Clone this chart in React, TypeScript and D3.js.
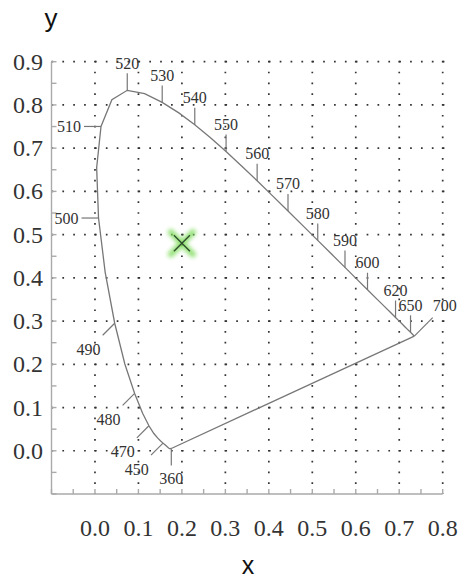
import React from "react";
import * as d3 from "d3";

// CIE 1931 spectral locus
const wavelengths = [
  360, 365, 370, 375, 380, 385, 390, 395, 400, 405, 410, 415, 420, 425, 430,
  435, 440, 445, 450, 455, 460, 465, 470, 475, 480, 485, 490, 495, 500, 505,
  510, 515, 520, 525, 530, 535, 540, 545, 550, 555, 560, 565, 570, 575, 580,
  585, 590, 595, 600, 605, 610, 615, 620, 625, 630, 635, 640, 645, 650, 655,
  660, 665, 670, 680, 690, 700,
];
const chromaX = [
  0.1756, 0.1752, 0.1748, 0.1745, 0.1741, 0.174, 0.1738, 0.1736, 0.1733,
  0.173, 0.1726, 0.1721, 0.1714, 0.1703, 0.1689, 0.1669, 0.1644, 0.1611,
  0.1566, 0.151, 0.144, 0.1355, 0.1241, 0.1096, 0.0913, 0.0687, 0.0454,
  0.0235, 0.0082, 0.0039, 0.0139, 0.0389, 0.0743, 0.1142, 0.1547, 0.1929,
  0.2296, 0.2658, 0.3016, 0.3373, 0.3731, 0.4087, 0.4441, 0.4788, 0.5125,
  0.5448, 0.5752, 0.6029, 0.627, 0.6482, 0.6658, 0.6801, 0.6915, 0.7006,
  0.7079, 0.714, 0.719, 0.723, 0.726, 0.7283, 0.73, 0.7311, 0.732, 0.7334,
  0.7344, 0.7347,
];
const chromaY = [
  0.0053, 0.0052, 0.0052, 0.0049, 0.005, 0.005, 0.0049, 0.0049, 0.0048,
  0.0048, 0.0048, 0.0048, 0.0051, 0.0058, 0.0069, 0.0086, 0.0109, 0.0138,
  0.0177, 0.0227, 0.0297, 0.0399, 0.0578, 0.0868, 0.1327, 0.2007, 0.295,
  0.4127, 0.5384, 0.6548, 0.7502, 0.812, 0.8338, 0.8262, 0.8059, 0.7816,
  0.7543, 0.7243, 0.6923, 0.6589, 0.6245, 0.5896, 0.5547, 0.5202, 0.4866,
  0.4544, 0.4242, 0.3965, 0.3725, 0.3514, 0.334, 0.3197, 0.3083, 0.2993,
  0.292, 0.2859, 0.2809, 0.277, 0.274, 0.2717, 0.27, 0.2689, 0.268, 0.2666,
  0.2656, 0.2653,
];

const labeledWaves = [
  360, 450, 470, 480, 490, 500, 510, 520, 530, 540, 550, 560, 570, 580, 590,
  600, 620, 650, 700,
];

const xTicks = [0, 0.1, 0.2, 0.3, 0.4, 0.5, 0.6, 0.7, 0.8];
const yTicks = [0, 0.1, 0.2, 0.3, 0.4, 0.5, 0.6, 0.7, 0.8, 0.9];
const marker = [0.2, 0.48];

const serif = '"Times New Roman", Times, "Liberation Serif", serif';
const sans = '"Liberation Sans", Arial, sans-serif';

// direction (deg) and label distance for a wavelength tick
const tickLayout = (w: number) => {
  if (w === 360) return { angle: 90, dist: 30 };
  if (w < 500) return { angle: 135, dist: 37 };
  if (w < 520) return { angle: 180, dist: 32 };
  if (w === 700) return { angle: -45, dist: 43 };
  return { angle: -90, dist: 27 };
};

export default function App() {
  const x = d3.scaleLinear().domain([-0.1, 0.8]).range([51.5, 442.7]);
  const y = d3.scaleLinear().domain([-0.1, 0.9]).range([494, 61.7]);

  const pts: [number, number][] = wavelengths.map((_, i) => [
    x(chromaX[i]),
    y(chromaY[i]),
  ]);
  const line = d3.line();
  const locus = line(pts) || "";
  const purpleLine = line([pts[pts.length - 1], pts[0]]) || "";

  const xStep = (x(0.1) - x(0)) / 4;
  const yStep = (y(0) - y(0.1)) / 4;
  const dot = 1.7;

  const minor = d3.range(-0.1, 0.8001, 0.05);
  const minorY = d3.range(-0.1, 0.9001, 0.05);

  const [mx, my] = [x(marker[0]), y(marker[1])];

  return (
    <svg
      width={461}
      height={582}
      style={{ position: "absolute", left: 0, top: 0, background: "#fff" }}
    >
      <defs>
        <filter id="glow" x="-50%" y="-50%" width="200%" height="200%">
          <feGaussianBlur stdDeviation="2.2" />
        </filter>
      </defs>

      {/* dotted grid */}
      <g stroke="#333" strokeWidth={dot}>
        {yTicks.map((t) => (
          <line
            key={"h" + t}
            x1={x(-0.1)}
            x2={x(0.8) + dot}
            y1={y(t)}
            y2={y(t)}
            strokeDasharray={`${dot} ${xStep - dot}`}
          />
        ))}
        {xTicks.map((t) => (
          <line
            key={"v" + t}
            x1={x(t)}
            x2={x(t)}
            y1={y(0.9) - dot / 2}
            y2={y(-0.1)}
            strokeDasharray={`${dot} ${yStep - dot}`}
          />
        ))}
      </g>

      {/* axes */}
      <g stroke="#aaa" strokeWidth={1.4}>
        <line x1={x(-0.1)} x2={x(0.8)} y1={y(-0.1)} y2={y(-0.1)} />
        <line x1={x(-0.1)} x2={x(-0.1)} y1={y(0.9)} y2={y(-0.1)} />
        {minor.map((t) => (
          <line key={"bx" + t} x1={x(t)} x2={x(t)} y1={y(-0.1)} y2={y(-0.1) - 5} />
        ))}
        {minorY.map((t) => (
          <line key={"ly" + t} x1={x(-0.1)} x2={x(-0.1) + 5} y1={y(t)} y2={y(t)} />
        ))}
      </g>

      {/* tick labels */}
      <g style={{ fontFamily: serif }} fontSize={24} fill="#333">
        {yTicks.map((t) => (
          <text key={"yl" + t} x={43} y={y(t)} textAnchor="end" dominantBaseline="central">
            {t.toFixed(1)}
          </text>
        ))}
        {xTicks.map((t) => (
          <text key={"xl" + t} x={x(t)} y={536} textAnchor="middle">
            {t.toFixed(1)}
          </text>
        ))}
      </g>
      <text x={51} y={27} style={{ fontFamily: sans }} fontSize={26} textAnchor="middle" fill="#111">
        y
      </text>
      <text x={248} y={574} style={{ fontFamily: sans }} fontSize={25} textAnchor="middle" fill="#111">
        x
      </text>

      {/* spectral locus */}
      <path d={locus} fill="none" stroke="#777" strokeWidth={1.3} />
      <path d={purpleLine} fill="none" stroke="#777" strokeWidth={1.3} />

      {/* wavelength ticks */}
      <g>
        {labeledWaves.map((w) => {
          const i = wavelengths.indexOf(w);
          const [px, py] = pts[i];
          const { angle, dist } = tickLayout(w);
          const a = (angle * Math.PI) / 180;
          const len = w === 700 ? 26 : 17;
          return (
            <g key={"w" + w}>
              <line
                x1={px}
                y1={py}
                x2={px + Math.cos(a) * len}
                y2={py + Math.sin(a) * len}
                stroke="#777"
                strokeWidth={1.2}
              />
              <text
                x={px + Math.cos(a) * dist}
                y={py + Math.sin(a) * dist}
                textAnchor="middle"
                dominantBaseline="central"
                style={{ fontFamily: serif }}
                fontSize={16}
                fill="#333"
              >
                {w}
              </text>
            </g>
          );
        })}
      </g>

      {/* marker */}
      <g filter="url(#glow)" stroke="#7fdc5c" strokeWidth={6} opacity={0.85} strokeLinecap="round">
        <line x1={mx - 11} y1={my - 11} x2={mx + 11} y2={my + 11} />
        <line x1={mx - 11} y1={my + 11} x2={mx + 11} y2={my - 11} />
      </g>
      <g stroke="#2d4a2a" strokeWidth={1.3}>
        <line x1={mx - 8} y1={my - 8} x2={mx + 8} y2={my + 8} />
        <line x1={mx - 8} y1={my + 8} x2={mx + 8} y2={my - 8} />
      </g>
    </svg>
  );
}
